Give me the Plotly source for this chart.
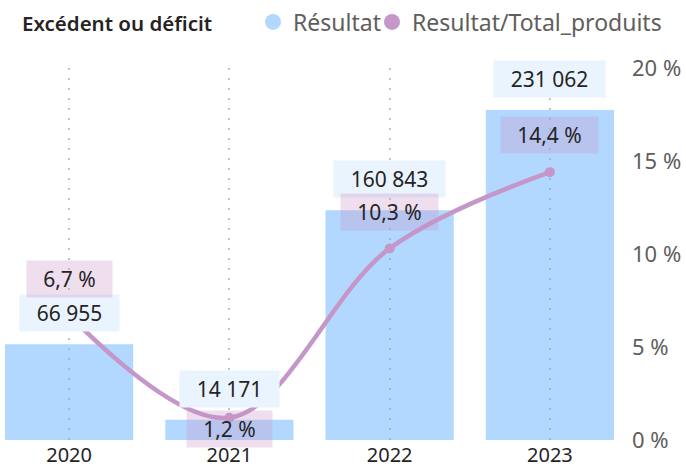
import plotly.graph_objects as go

years = ["2020", "2021", "2022", "2023"]
resultat = [66955, 14171, 160843, 231062]
ratio_pct = [6.7, 1.2, 10.3, 14.4]
resultat_labels = ["66 955", "14 171", "160 843", "231 062"]
ratio_labels = ["6,7 %", "1,2 %", "10,3 %", "14,4 %"]
y2_tickvals = [0, 5, 10, 15, 20]
y2_ticktext = ["0 %", "5 %", "10 %", "15 %", "20 %"]

FONT = "Noto Sans"
BAR_COLOR = "rgba(102,178,255,0.5)"
LINE_COLOR = "#C597C9"

fig = go.Figure()
fig.add_trace(go.Bar(x=years, y=resultat, name="Résultat", marker=dict(color=BAR_COLOR, line=dict(width=0)),
                     showlegend=False, yaxis="y", hoverinfo="skip"))
fig.add_trace(go.Scatter(x=years, y=ratio_pct, name="Resultat/Total_produits", mode="lines+markers",
                         line=dict(color=LINE_COLOR, width=4.5, shape="spline", smoothing=1.0),
                         marker=dict(size=10, color=LINE_COLOR), yaxis="y2", showlegend=False))
# legend entries with circle symbols (two separate legends for precise placement)
fig.add_trace(go.Scatter(x=[None], y=[None], mode="markers", name="Résultat", legend="legend",
                         marker=dict(symbol="circle", size=16, color="#B3D8FF")))
fig.add_trace(go.Scatter(x=[None], y=[None], mode="markers", name="Resultat/Total_produits", legend="legend2",
                         marker=dict(symbol="circle", size=16, color=LINE_COLOR)))

annotations = []
for i, (v, t) in enumerate(zip(resultat, resultat_labels)):
    annotations.append(dict(x=i, y=v, xref="x", yref="y", text=t, showarrow=False,
                            yshift=31, yanchor="middle", bgcolor="#EAF4FE",
                            width=12 * len(t) + 27, height=36, borderpad=0,
                            font=dict(family=FONT, size=21, color="#252423")))
pct_shift = [36, -11, 36, 37]
for i, (v, t, s) in enumerate(zip(ratio_pct, ratio_labels, pct_shift)):
    annotations.append(dict(x=i, y=v, xref="x", yref="y2", text=t, showarrow=False,
                            yshift=s, yanchor="middle", bgcolor="rgba(198,145,198,0.3)",
                            width=12 * len(t) + 25, height=36, borderpad=0,
                            font=dict(family=FONT, size=21, color="#252423")))

legend_common = dict(orientation="h", xref="container", xanchor="left",
                     y=1 - 22 / 471, yref="container", yanchor="middle",
                     font=dict(family=FONT, size=23, color="#605E5C"),
                     itemwidth=30, bgcolor="rgba(0,0,0,0)")

fig.update_layout(
    width=686, height=471,
    margin=dict(l=5, r=72, t=68, b=31, autoexpand=False),
    paper_bgcolor="white", plot_bgcolor="white",
    bargap=0.2,
    font=dict(family=FONT),
    title=dict(text="Excédent ou déficit", x=22 / 686, xanchor="left", y=1 - 24 / 471, yanchor="middle",
               font=dict(family=FONT, size=20.5, color="#252423", weight=600)),
    legend=dict(x=253 / 686, **legend_common),
    legend2=dict(x=372 / 686, **legend_common),
    xaxis=dict(type="category", range=[-0.4, 3.4], showgrid=True, gridcolor="#C4C4C4", griddash="2px,8px",
               gridwidth=1.5, showline=False, zeroline=False, ticks="", automargin=False,
               ticklabelstandoff=1,
               tickfont=dict(family=FONT, size=20, color="#252423")),
    yaxis=dict(range=[0, 260400], visible=False, showgrid=False, zeroline=False, automargin=False),
    yaxis2=dict(range=[0, 20], overlaying="y", side="right", tickvals=y2_tickvals, ticktext=y2_ticktext,
                showgrid=False, zeroline=False, showline=False, ticks="", automargin=False,
                ticklabelstandoff=17,
                tickfont=dict(family=FONT, size=22, color="#605E5C")),
    annotations=annotations,
)

fig.write_html("out.html", config={"displayModeBar": False},
               post_script="document.body.style.margin='0';document.body.style.overflow='hidden';")
